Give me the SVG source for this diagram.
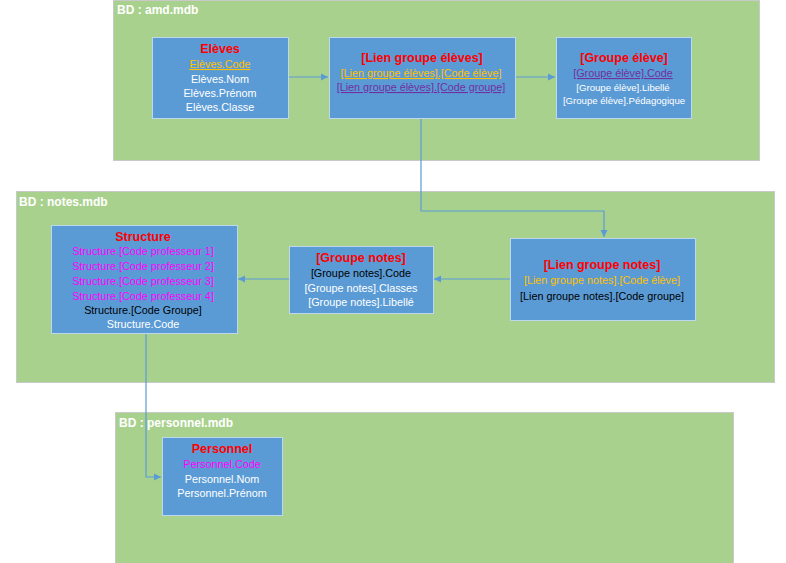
<svg xmlns="http://www.w3.org/2000/svg" width="786" height="563" viewBox="0 0 786 563">
<defs>
<style>
.db{fill:#A9D18E;stroke:#C9C9C9;stroke-width:1}
.dbl{font-family:"Liberation Sans",Arial,sans-serif;font-weight:bold;font-size:12px;fill:#FFFFFF}
.tb{fill:#5B9BD5;stroke:#BDD7EE;stroke-width:1}
.t{font-family:"Liberation Sans",Arial,sans-serif;font-weight:bold;font-size:12.5px;fill:#FF0000;text-anchor:middle}
.f{font-family:"Liberation Sans",Arial,sans-serif;font-size:10.8px;fill:#FFFFFF;text-anchor:middle}
.s{font-size:9.6px}
.o{fill:#FFC000}
.p{fill:#7030A0}
.m{fill:#FF00FF}
.k{fill:#000000}
.u{text-decoration:underline}
.c{fill:none;stroke:#5B9BD5;stroke-width:1.2}
</style>
<marker id="ah" markerWidth="8" markerHeight="8" refX="7" refY="4" orient="auto" markerUnits="userSpaceOnUse">
<path d="M0,0.5 L7,4 L0,7.5 Z" fill="#5B9BD5"/>
</marker>
</defs>
<g id="db-amd">
<rect class="db" x="113.5" y="0.5" width="646" height="160"/>
<text class="dbl" x="117" y="14">BD : amd.mdb</text>
</g>
<g id="db-notes">
<rect class="db" x="16.5" y="191.5" width="758" height="191"/>
<text class="dbl" x="19" y="206">BD : notes.mdb</text>
</g>
<g id="db-personnel">
<rect class="db" x="115.5" y="412.5" width="618" height="151"/>
<text class="dbl" x="119" y="427">BD : personnel.mdb</text>
</g>
<g id="connectors">
<path class="c" d="M288,77 H328" marker-end="url(#ah)"/>
<path class="c" d="M515,77 H555" marker-end="url(#ah)"/>
<path class="c" d="M421,118 V211 H604 V237" marker-end="url(#ah)"/>
<path class="c" d="M510,279 H434" marker-end="url(#ah)"/>
<path class="c" d="M289,279 H238" marker-end="url(#ah)"/>
<path class="c" d="M146,333 V477 H161" marker-end="url(#ah)"/>
</g>
<g id="eleves">
<rect class="tb" x="152.5" y="37.5" width="136" height="81"/>
<text class="t" x="220" y="53">Elèves</text>
<text class="f o u" x="220" y="68">Elèves.Code</text>
<text class="f" x="220" y="83">Elèves.Nom</text>
<text class="f" x="220" y="97">Elèves.Prénom</text>
<text class="f" x="220" y="111">Elèves.Classe</text>
</g>
<g id="lien-groupe-eleves">
<rect class="tb" x="329.5" y="37.5" width="186" height="81"/>
<text class="t" x="422" y="62">[Lien groupe élèves]</text>
<text class="f o u" x="421" y="77">[Lien groupe élèves].[Code élève]</text>
<text class="f p u" x="421" y="91">[Lien groupe élèves].[Code groupe]</text>
</g>
<g id="groupe-eleve">
<rect class="tb" x="556.5" y="37.5" width="135" height="81"/>
<text class="t" x="624" y="62">[Groupe élève]</text>
<text class="f p u" x="623" y="77">[Groupe élève].Code</text>
<text class="f s" x="623" y="91">[Groupe élève].Libellé</text>
<text class="f s" x="624" y="104">[Groupe élève].Pédagogique</text>
</g>
<g id="structure">
<rect class="tb" x="51.5" y="225.5" width="186" height="108"/>
<text class="t" x="143" y="241">Structure</text>
<text class="f m" x="143" y="255">Structure.[Code professeur 1]</text>
<text class="f m" x="143" y="270">Structure.[Code professeur 2]</text>
<text class="f m" x="143" y="285">Structure.[Code professeur 3]</text>
<text class="f m" x="143" y="300">Structure.[Code professeur 4]</text>
<text class="f k" x="143" y="314">Structure.[Code Groupe]</text>
<text class="f" x="143" y="328">Structure.Code</text>
</g>
<g id="groupe-notes">
<rect class="tb" x="289.5" y="246.5" width="144" height="67"/>
<text class="t" x="361" y="262">[Groupe notes]</text>
<text class="f k" x="361" y="277">[Groupe notes].Code</text>
<text class="f" x="361" y="292">[Groupe notes].Classes</text>
<text class="f" x="361" y="306">[Groupe notes].Libellé</text>
</g>
<g id="lien-groupe-notes">
<rect class="tb" x="510.5" y="238.5" width="185" height="82"/>
<text class="t" x="602" y="269">[Lien groupe notes]</text>
<text class="f o" x="602" y="284">[Lien groupe notes].[Code élève]</text>
<text class="f k" x="602" y="300">[Lien groupe notes].[Code groupe]</text>
</g>
<g id="personnel">
<rect class="tb" x="162.5" y="437.5" width="120" height="78"/>
<text class="t" x="222" y="453">Personnel</text>
<text class="f m" x="222" y="468">Personnel.Code</text>
<text class="f" x="222" y="483">Personnel.Nom</text>
<text class="f" x="222" y="497">Personnel.Prénom</text>
</g>
</svg>
